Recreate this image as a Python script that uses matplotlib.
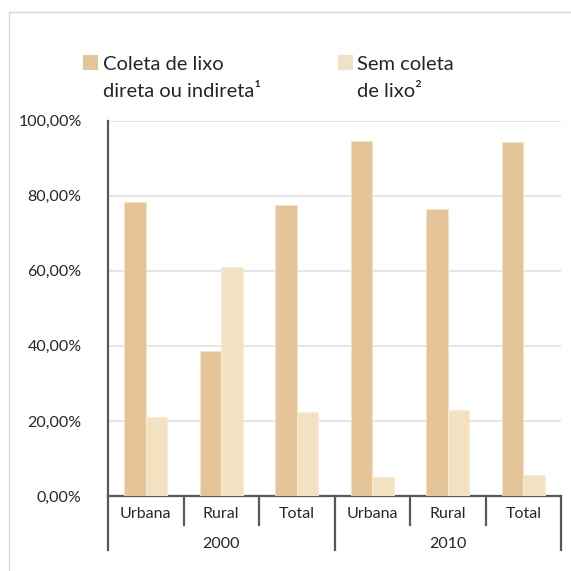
import matplotlib
matplotlib.use("Agg")
import matplotlib.pyplot as plt
from matplotlib.lines import Line2D
from matplotlib.patches import Rectangle
from matplotlib.transforms import blended_transform_factory

plt.rcParams['font.family'] = ['Lato', 'DejaVu Sans']

categories = ["Urbana", "Rural", "Total", "Urbana", "Rural", "Total"]
years = ["2000", "2010"]
coleta = [78.3, 38.7, 77.4, 94.6, 76.5, 94.2]
sem_coleta = [21.0, 61.1, 22.4, 5.1, 22.9, 5.6]
yticks = [0, 20, 40, 60, 80, 100]
ytick_labels = ["0,00%", "20,00%", "40,00%", "60,00%", "80,00%", "100,00%"]
legend_labels = ["Coleta de lixo\ndireta ou indireta\u00b9", "Sem coleta\nde lixo\u00b2"]

c_coleta = "#E5C497"
c_sem = "#F2E2C2"
axis_c = "#595959"
grid_c = "#E3E3E3"
text_c = "#262626"

W = H = 571
fig = plt.figure(figsize=(5.71, 5.71), dpi=100)

def fx(px):
    return px / W

def fy(py):
    return 1 - py / H

ax_left, ax_right, ax_top, ax_bot = 108, 561, 120.6, 496
ax = fig.add_axes([fx(ax_left), fy(ax_bot), fx(ax_right - ax_left), (ax_bot - ax_top) / H])

n = len(categories)
centers = [i + 0.5 for i in range(n)]
bw = 0.285
ax.bar([c - bw / 2 for c in centers], coleta, width=bw, color=c_coleta,
       edgecolor="#F3E3CB", linewidth=0.6, zorder=3)
ax.bar([c + bw / 2 for c in centers], sem_coleta, width=bw, color=c_sem,
       edgecolor="#F7EDDA", linewidth=0.6, zorder=3)

ax.set_xlim(0, n)
ax.set_ylim(0, 100)
ax.set_yticks(yticks)
ax.set_yticklabels(ytick_labels, fontsize=11.5, color=text_c)
ax.tick_params(axis='y', length=0, pad=19)
ax.set_xticks([])
ax.yaxis.grid(True, color=grid_c, linewidth=1.3, zorder=0)
for s in ["top", "right"]:
    ax.spines[s].set_visible(False)
ax.spines["left"].set_color(axis_c)
ax.spines["left"].set_linewidth(1.6)
ax.spines["bottom"].set_color(axis_c)
ax.spines["bottom"].set_linewidth(1.6)

axh = ax_bot - ax_top
tr = blended_transform_factory(ax.transData, ax.transAxes)
# category separators
for i in range(n + 1):
    depth = 54 if i in (0, 3, 6) else 29
    ax.add_line(Line2D([i, i], [0, -depth / axh], transform=tr, color=axis_c,
                       linewidth=1.6, clip_on=False))
for i, c in enumerate(categories):
    ax.text(centers[i], -18 / axh, c, transform=tr, ha="center", va="center",
            fontsize=11.5, color=text_c)
for j, y in enumerate(years):
    ax.text(1.5 + 3 * j, -48 / axh, y, transform=tr, ha="center", va="center",
            fontsize=11.5, color=text_c)

# legend
for (mx, tx), lab, col in zip([(83, 103), (338, 357)], legend_labels, [c_coleta, c_sem]):
    fig.patches.append(Rectangle((fx(mx), fy(70)), fx(15), 15 / H, transform=fig.transFigure,
                                 facecolor=col, edgecolor="none"))
    l1, l2 = lab.split("\n")
    fig.text(fx(tx), fy(70), l1, ha="left", va="baseline", fontsize=14.5, color=text_c)
    fig.text(fx(tx), fy(97), l2, ha="left", va="baseline", fontsize=14.5, color=text_c)

# outer frame
fig.add_artist(Line2D([fx(9), 1], [fy(12), fy(12)], transform=fig.transFigure,
                      color="#D9D9D9", linewidth=1.0))
fig.add_artist(Line2D([fx(9), fx(9)], [fy(12), 0], transform=fig.transFigure,
                      color="#D9D9D9", linewidth=1.0))

fig.savefig("out.png", dpi=100)
